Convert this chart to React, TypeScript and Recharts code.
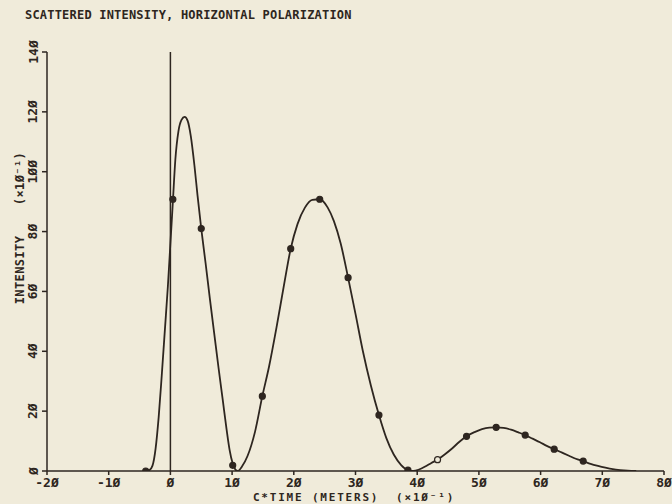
import {
  ComposedChart,
  Line,
  Scatter,
  XAxis,
  YAxis,
  ReferenceLine,
} from "recharts";

// traced curve (x in C*TIME units, y in intensity units)
const curveX = [
  -4.0, -3.4, -2.9, -2.4, -1.9, -1.4, -0.9, -0.4, 0.0, 0.4, 0.8, 1.3, 1.8, 2.3, 2.8, 3.3, 3.9, 4.4,
  5.0, 5.7, 6.4, 7.1, 7.8, 8.5, 9.1, 9.6, 10.1, 10.5, 10.9, 11.6, 12.5, 13.7, 14.9, 16.0, 17.2, 18.4,
  19.5, 20.6, 21.8, 23.0, 24.2, 25.5, 26.5, 27.6, 28.8, 30.0, 31.2, 32.5, 33.8, 35.0, 36.2, 37.4, 38.5,
  39.4, 40.3, 41.3, 42.3, 43.3, 44.5, 45.7, 46.8, 48.0, 49.3, 50.5, 51.7, 52.8, 54.0, 55.2, 56.4,
  57.5, 58.7, 59.9, 61.0, 62.2, 63.4, 64.6, 65.7, 66.9, 68.1, 69.3, 70.5, 71.7, 72.9, 74.1, 75.5,
];
const curveY = [
  0, 0.3, 1.8, 7.5, 18, 32, 47, 62, 76, 90, 104, 113.5, 117.3, 118.3, 117, 112, 102, 92,
  81, 69.5, 57.5, 46, 34.5, 23.5, 14, 7, 2.5, 0.6, 0, 1.5, 5, 13, 25, 35, 48, 62,
  74.3, 82.5, 88, 90.6, 90.8, 88, 83.5, 76, 64.6, 52.5, 40, 28.5, 18.7, 11, 5.5, 2, 0.3,
  0, 0.5, 1.5, 2.7, 3.8, 5.6, 7.6, 9.7, 11.6, 13, 14, 14.5, 14.6, 14.4, 13.8, 12.9,
  12, 10.8, 9.6, 8.4, 7.3, 6.2, 5.1, 4.1, 3.3, 2.4, 1.7, 1.1, 0.6, 0.3, 0.1, 0,
];

// plotted sample points
const markerX = [-4.0, 0.4, 5.0, 10.1, 14.9, 19.5, 24.2, 28.8, 33.8, 38.5, 43.3, 48.0, 52.8, 57.5, 62.2, 66.9];
const markerY = [0, 90.8, 81, 1.9, 25, 74.3, 90.8, 64.6, 18.7, 0.3, 3.8, 11.6, 14.6, 12, 7.3, 3.3];
const markerHollow = [false, false, false, false, false, false, false, false, false, false, true, false, false, false, false, false];

const xTicks = [-20, -10, 0, 10, 20, 30, 40, 50, 60, 70, 80];
const yTicks = [0, 20, 40, 60, 80, 100, 120, 140];

const INK = "#2e2620";
const BG = "#f0ebda";
const FONT = "'DejaVu Sans Mono', monospace";

const curve = curveX.map((x, i) => ({ x, y: curveY[i] }));
const markers = markerX.map((x, i) => ({ x, y: markerY[i], hollow: markerHollow[i] }));

// plotter style slashed zeros
const fmt = (v: number) => String(v).replace(/0/g, "\u00d8");

const XTick = ({ x, y, payload }: any) => (
  <text x={x} y={y + 5} textAnchor="middle" dominantBaseline="central" fill={INK}
    fontFamily={FONT} fontSize={13} fontWeight="bold">
    {fmt(payload.value)}
  </text>
);

const YTick = ({ x, y, payload }: any) => (
  <text x={x - 7} y={y} textAnchor="middle" dominantBaseline="central" fill={INK}
    fontFamily={FONT} fontSize={13} fontWeight="bold" transform={`rotate(-90, ${x - 7}, ${y})`}>
    {fmt(payload.value)}
  </text>
);

const Dot = ({ cx, cy, payload }: any) => (
  <circle cx={cx} cy={cy} r={3} fill={payload.hollow ? BG : INK} stroke={INK} strokeWidth={1.2} />
);

export default function App() {
  return (
    <div style={{ position: "fixed", left: 0, top: 0, width: 672, height: 504, background: BG, overflow: "hidden" }}>
      <div style={{ position: "absolute", left: 25, top: 8, fontFamily: FONT, fontSize: 12, fontWeight: "bold", color: INK, letterSpacing: 0.2, whiteSpace: "nowrap" }}>
        SCATTERED INTENSITY, HORIZONTAL POLARIZATION
      </div>
      <div style={{ position: "absolute", left: 20, top: 228, width: 0, height: 0 }}>
        <div style={{ position: "absolute", transform: "translate(-50%, -50%) rotate(-90deg)", fontFamily: FONT, fontSize: 12, fontWeight: "bold", color: INK, whiteSpace: "nowrap", letterSpacing: 0.4 }}>
          INTENSITY&nbsp;&nbsp;&nbsp;&nbsp;(×1Ø⁻¹)
        </div>
      </div>
      <div style={{ position: "absolute", left: 354, top: 497, width: 0, height: 0 }}>
        <div style={{ position: "absolute", transform: "translate(-50%, -50%)", fontFamily: FONT, fontSize: 11, fontWeight: "bold", color: INK, whiteSpace: "nowrap", letterSpacing: 1.8 }}>
          C*TIME (METERS)&nbsp;&nbsp;(×1Ø⁻¹)
        </div>
      </div>
      <ComposedChart
        width={672}
        height={504}
        margin={{ top: 52, right: 8, bottom: 13, left: 0 }}
        style={{ position: "absolute", left: 0, top: 0 }}
      >
        <XAxis
          type="number"
          dataKey="x"
          domain={[-20, 80]}
          ticks={xTicks}
          allowDataOverflow
          height={20}
          tickSize={4}
          tickMargin={2}
          stroke={INK}
          strokeWidth={1.5}
          tick={<XTick />}
        />
        <YAxis
          type="number"
          dataKey="y"
          domain={[0, 140]}
          ticks={yTicks}
          allowDataOverflow
          width={47}
          tickSize={5}
          tickMargin={2}
          stroke={INK}
          strokeWidth={1.5}
          tick={<YTick />}
        />
        <ReferenceLine x={0} stroke={INK} strokeWidth={1.5} />
        <Line
          data={curve}
          dataKey="y"
          type="monotone"
          stroke={INK}
          strokeWidth={1.8}
          dot={false}
          activeDot={false}
          isAnimationActive={false}
        />
        <Scatter data={markers} dataKey="y" shape={<Dot />} isAnimationActive={false} />
      </ComposedChart>
    </div>
  );
}
